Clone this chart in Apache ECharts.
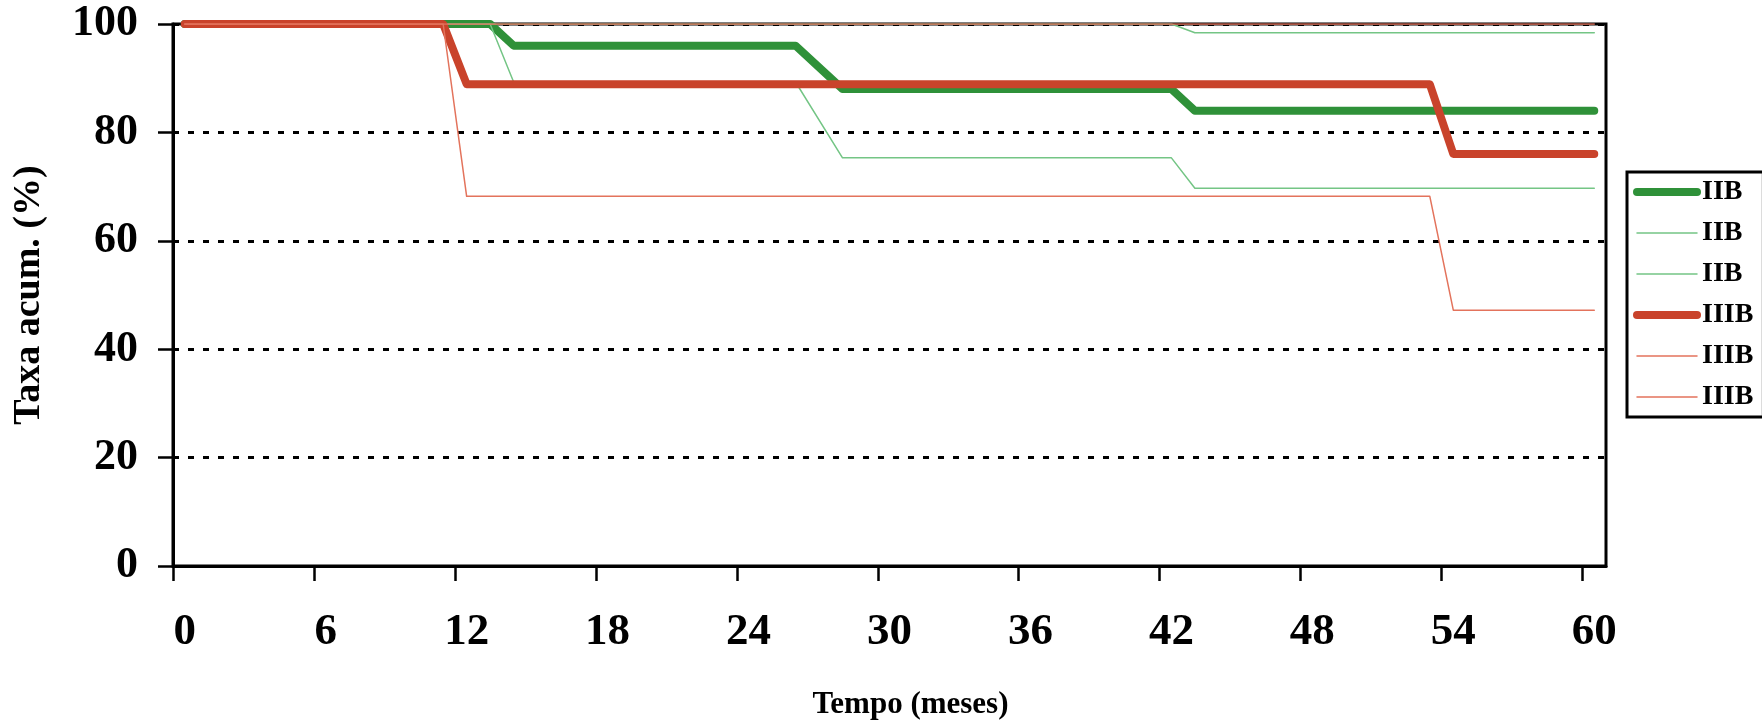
<!DOCTYPE html>
<html>
<head>
<meta charset="utf-8">
<script src="https://cdn.jsdelivr.net/npm/echarts@6/dist/echarts.min.js"></script>
<style>
  html, body { margin: 0; padding: 0; background: #ffffff; }
  #chart { width: 1762px; height: 728px; }
</style>
</head>
<body>
<div id="chart"></div>
<script>
// Axis ticks
const monthLabels = [0, 6, 12, 18, 24, 30, 36, 42, 48, 54, 60];
const rateTicks = [0, 20, 40, 60, 80, 100];

// Cumulative rate (%) per month, [month, value] at each step change
const iibRate   = [[0, 100], [13, 100], [14, 96], [26, 96], [28, 88], [42, 88], [43, 84], [60, 84]];
const iibUpper  = [[0, 100], [42, 100], [43, 98.4], [60, 98.4]];
const iibLower  = [[0, 100], [13, 100], [14, 89.3], [26, 89.3], [28, 75.3], [42, 75.3], [43, 69.7], [60, 69.7]];
const iiibRate  = [[0, 100], [11, 100], [12, 88.9], [53, 88.9], [54, 76], [60, 76]];
const iiibUpper = [[0, 100], [60, 100]];
const iiibLower = [[0, 100], [11, 100], [12, 68.2], [53, 68.2], [54, 47.2], [60, 47.2]];

const FONT = "'Liberation Serif', 'Times New Roman', serif";

// Each month is a band one unit wide; ticks sit on band edges, labels on band centres
const tickValues = monthLabels.map(m => m - 0.5);

const lines = [
  { name: 'IIB',       data: iibRate,   color: '#2f9139', width: 8 },
  { name: 'IIB sup.',  data: iibUpper,  color: '#74c585', width: 1.5 },
  { name: 'IIB inf.',  data: iibLower,  color: '#74c585', width: 1.5 },
  { name: 'IIIB',      data: iiibRate,  color: '#c9432b', width: 8 },
  { name: 'IIIB sup.', data: iiibUpper, color: '#e3735c', width: 1.5 },
  { name: 'IIIB inf.', data: iiibLower, color: '#e3735c', width: 1.5 }
];

const chart = echarts.init(document.getElementById('chart'), null, { renderer: 'canvas' });

const option = {
  animation: false,
  backgroundColor: '#ffffff',
  grid: {
    left: 173, right: 156, top: 24, bottom: 162,
    show: true, borderColor: '#000', borderWidth: 3, z: 3,
    containLabel: false, outerBoundsMode: 'none'
  },
  legend: {
    orient: 'vertical',
    left: 1627, top: 172,
    padding: [6, 10, 6, 6],
    itemWidth: 60, itemHeight: 20, itemGap: 13,
    borderColor: '#000', borderWidth: 3,
    data: lines.map(l => l.name),
    formatter: name => name.split(' ')[0],
    itemStyle: { opacity: 0 },
    lineStyle: { width: 'inherit', cap: 'round' },
    textStyle: { fontFamily: FONT, fontWeight: 'bold', fontSize: 28, lineHeight: 28, color: '#000' }
  },
  xAxis: {
    type: 'value',
    min: -0.5, max: 60.5,
    name: 'Tempo (meses)',
    nameLocation: 'middle',
    nameGap: 123,
    nameTextStyle: { fontFamily: FONT, fontWeight: 'bold', fontSize: 31, color: '#000', padding: [0, 0, 0, 42] },
    axisLine: { show: true, onZero: false, lineStyle: { color: '#000', width: 3 } },
    axisTick: { show: true, length: 15, customValues: tickValues, lineStyle: { color: '#000', width: 2.5 } },
    axisLabel: {
      customValues: monthLabels, margin: 44,
      fontFamily: FONT, fontWeight: 'bold', fontSize: 45, color: '#000'
    },
    splitLine: { show: false }
  },
  yAxis: {
    type: 'value',
    min: rateTicks[0], max: rateTicks[rateTicks.length - 1], interval: 20,
    name: 'Taxa acum. (%)',
    nameLocation: 'middle',
    nameGap: 125,
    nameTextStyle: { fontFamily: FONT, fontWeight: 'bold', fontSize: 38, color: '#000' },
    axisLine: { show: true, onZero: false, lineStyle: { color: '#000', width: 3 } },
    axisTick: { show: true, length: 15, lineStyle: { color: '#000', width: 2.5 } },
    axisLabel: { margin: 35, fontFamily: FONT, fontWeight: 'bold', fontSize: 44, color: '#000' },
    splitLine: { show: true, lineStyle: { color: '#000', width: 3, type: [6, 9] } }
  },
  series: lines.map(l => ({
    name: l.name,
    type: 'line',
    data: l.data,
    symbol: 'none',
    color: l.color,
    lineStyle: { color: l.color, width: l.width, cap: 'round', join: 'round' },
    emphasis: { disabled: true }
  }))
};

chart.setOption(option);

// Lines are cut at the plot's top edge, like the frame they sit in
const topY = chart.convertToPixel({ yAxisIndex: 0 }, rateTicks[rateTicks.length - 1]);
const leftX = chart.convertToPixel({ xAxisIndex: 0 }, -0.5);
const rightX = chart.convertToPixel({ xAxisIndex: 0 }, 60.5);
chart.setOption({
  graphic: [{
    type: 'rect', z: 2.5, silent: true,
    shape: { x: leftX + 2, y: 0, width: rightX - leftX - 4, height: topY - 1.5 },
    style: { fill: '#ffffff' }
  }]
});
</script>
</body>
</html>
